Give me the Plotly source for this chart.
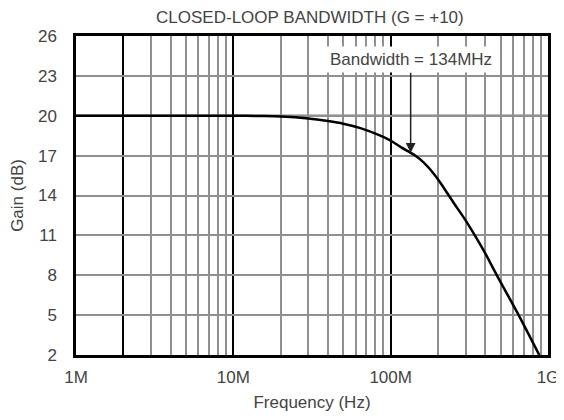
import numpy as np
import plotly.graph_objects as go

# closed-loop response (frequency in MHz, gain in dB)
freq_mhz = [1, 2, 5, 10, 15, 20, 30, 40, 50, 65, 86, 100, 116, 141, 163,
            189, 210, 253, 293, 339, 393, 478, 641, 880]
gain_db = [20.0, 20.0, 20.0, 20.0, 19.98, 19.95, 19.8, 19.6, 19.4, 19.05, 18.5,
           18.13, 17.64, 17.06, 16.45, 15.6, 14.85, 13.4, 12.3, 11.1, 9.8,
           7.9, 5.15, 2.0]

x_tickvals = [1e6, 2e6, 1e7, 1e8, 1e9]
x_ticktext = ['1M', '', '10M', '100M', '1G']
x_minor = [m * d for d in (1e6, 1e7, 1e8) for m in range(2, 10)
           if not (d == 1e6 and m == 2)]
y_tickvals = [2, 5, 8, 11, 14, 17, 20, 23, 26]
ref_gain = 20
bandwidth_hz = 134e6

freq_hz = [f * 1e6 for f in freq_mhz]
bw_gain = float(np.interp(np.log10(bandwidth_hz), np.log10(freq_hz), gain_db))

font = dict(family='Liberation Sans, Arial, sans-serif', size=17, color='#444')

fig = go.Figure()
fig.add_trace(go.Scatter(
    x=freq_hz, y=gain_db, mode='lines',
    line=dict(color='black', width=2.5, shape='spline', smoothing=0.8),
    hoverinfo='skip'
))

fig.add_hline(y=ref_gain, line=dict(color='black', width=2), layer='below')

fig.add_annotation(
    x=np.log10(bandwidth_hz), y=bw_gain, xref='x', yref='y',
    text='Bandwidth = 134MHz', showarrow=True,
    ax=0, ay=-93, arrowhead=2, arrowsize=1.3, arrowwidth=1.5,
    arrowcolor='#222', bgcolor='white', borderpad=3,
    font=font
)

# page body adds an 8px margin on the top/left, so the figure is offset by 8px
fig.update_layout(
    width=556, height=404,
    margin=dict(l=68, r=16, t=28, b=57),
    plot_bgcolor='white', paper_bgcolor='white',
    showlegend=False,
    font=font,
    title=dict(text='CLOSED-LOOP BANDWIDTH (G = +10)', x=0.543, xanchor='center',
               y=0.9765, yanchor='middle', font=font),
    xaxis=dict(
        type='log', range=[6, 9], automargin=False,
        tickmode='array', tickvals=x_tickvals, ticktext=x_ticktext,
        ticklabeloverflow='allow',
        ticks='outside', ticklen=5, tickcolor='rgba(0,0,0,0)',
        showgrid=True, gridcolor='black', gridwidth=2,
        minor=dict(tickmode='array', tickvals=x_minor, showgrid=True,
                   gridcolor='#909090', gridwidth=1.5),
        showline=True, linecolor='black', linewidth=2.5, mirror=True,
        zeroline=False,
        title=dict(text='Frequency (Hz)', font=font, standoff=18),
    ),
    yaxis=dict(
        range=[2, 26], automargin=False,
        tickmode='array', tickvals=y_tickvals,
        ticks='outside', ticklen=13, tickcolor='rgba(0,0,0,0)',
        showgrid=True, gridcolor='#909090', gridwidth=1.5,
        showline=True, linecolor='black', linewidth=2.5, mirror=True,
        zeroline=False,
        title=dict(text='Gain (dB)', font=font, standoff=16),
    ),
)

fig.write_html("out.html")
